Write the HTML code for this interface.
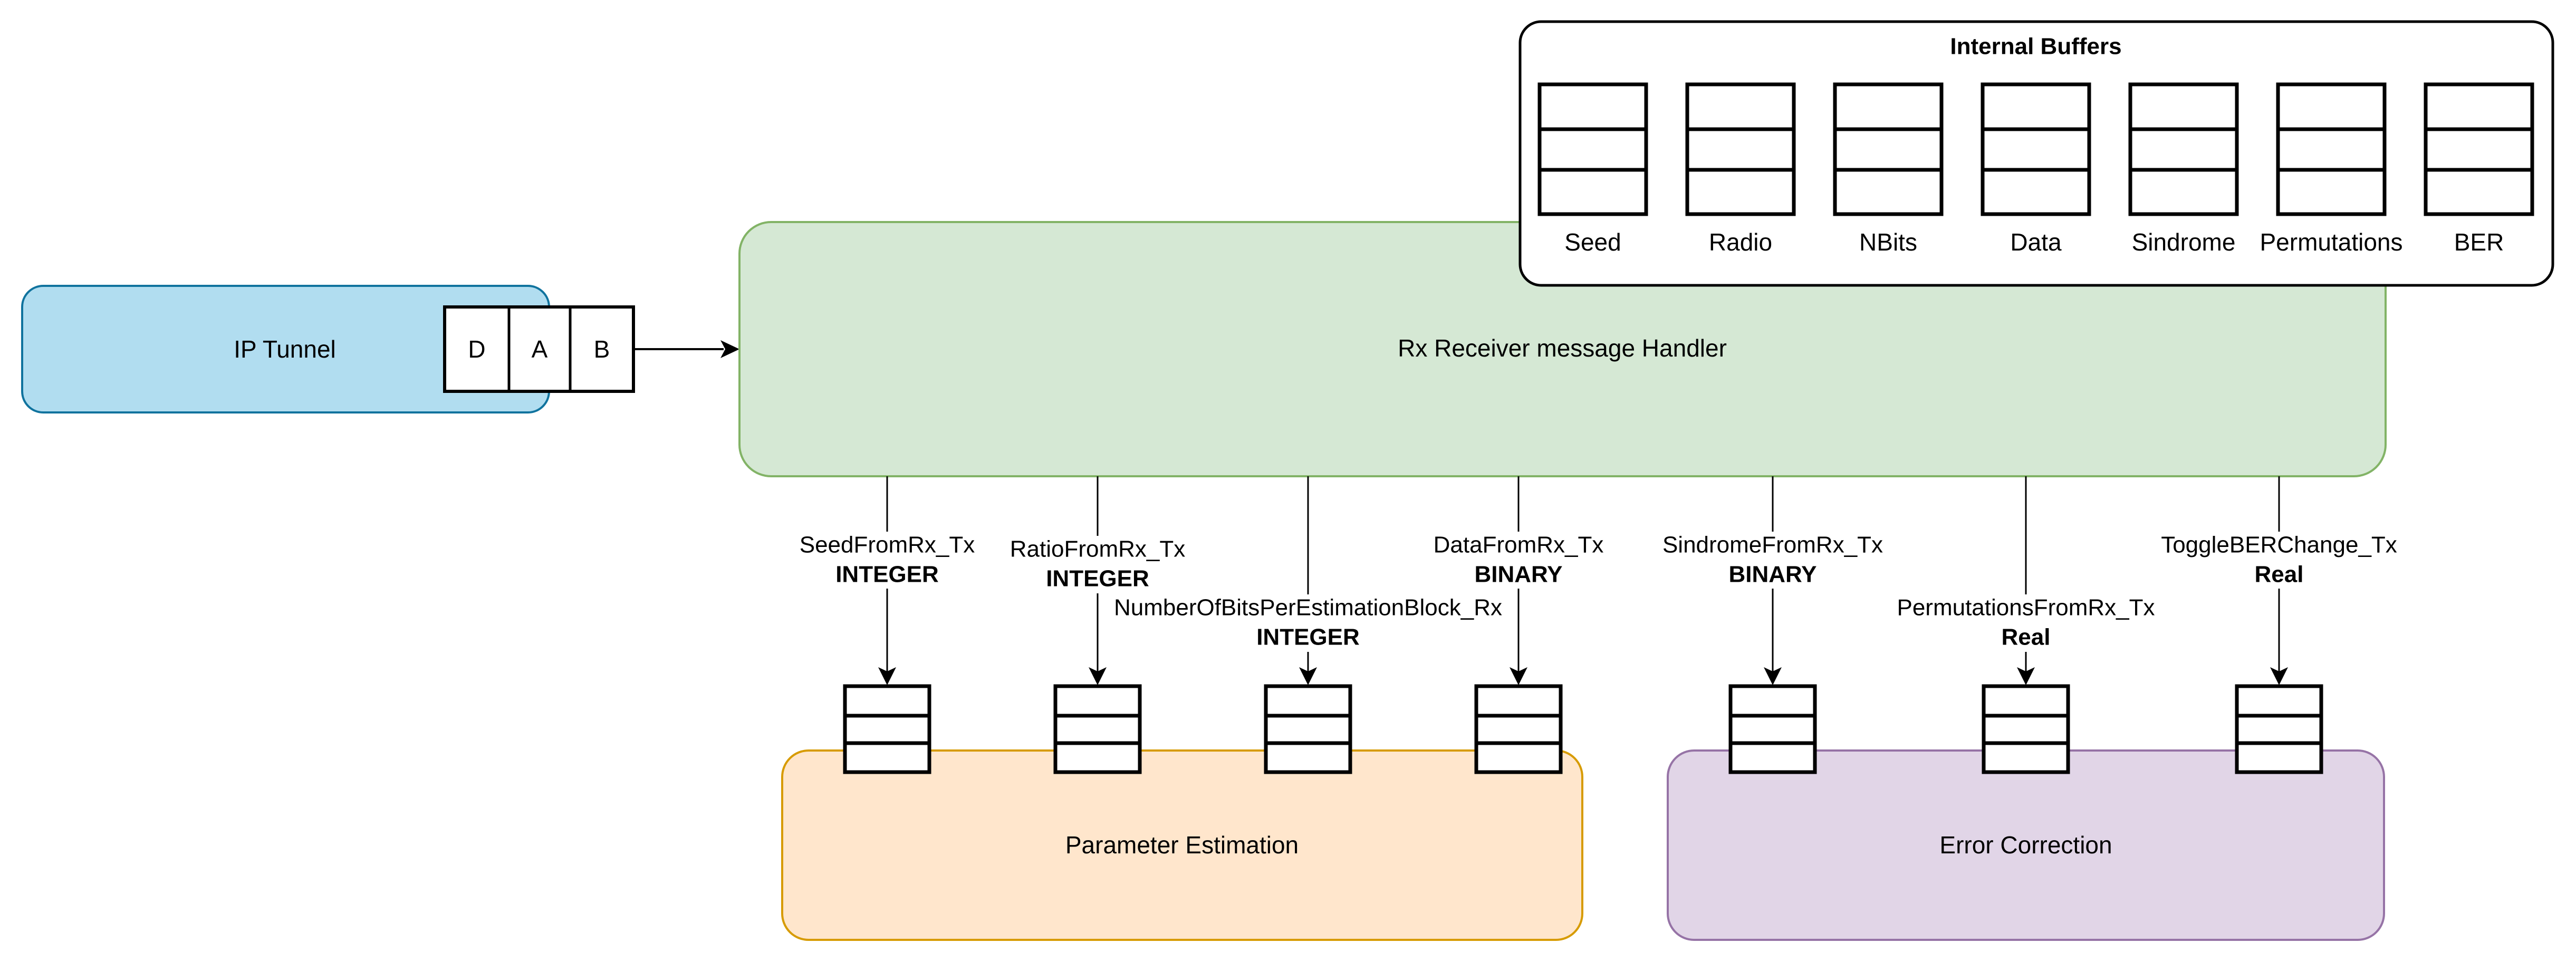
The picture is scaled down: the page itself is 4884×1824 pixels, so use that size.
<!DOCTYPE html>
<html><head><meta charset="utf-8"><style>
html,body{margin:0;padding:0;background:#fff;}
svg{display:block;}
text{font-family:"Liberation Sans",Arial,sans-serif;}
</style></head><body>
<svg width="4884" height="1824" viewBox="0 0 4884 1824" xmlns="http://www.w3.org/2000/svg">
<defs>
<marker id="ah" markerWidth="12" markerHeight="12" refX="11" refY="6" orient="auto" markerUnits="userSpaceOnUse" viewBox="0 0 12 12">
</marker>
<g id="buf">
<rect x="0" y="0" width="160" height="163" fill="#fff" stroke="#000" stroke-width="7"/>
<line x1="0" y1="56" x2="160" y2="56" stroke="#000" stroke-width="7"/>
<line x1="0" y1="108" x2="160" y2="108" stroke="#000" stroke-width="7"/>
</g>
<g id="ibuf">
<rect x="0" y="0" width="202" height="246" fill="#fff" stroke="#000" stroke-width="7"/>
<line x1="0" y1="85" x2="202" y2="85" stroke="#000" stroke-width="7"/>
<line x1="0" y1="162" x2="202" y2="162" stroke="#000" stroke-width="7"/>
</g>
</defs>

<!-- IP Tunnel -->
<rect x="42" y="542" width="999" height="240" rx="40" fill="#b1ddf0" stroke="#10739e" stroke-width="4"/>
<text x="540" y="662" font-size="46" text-anchor="middle" dominant-baseline="central">IP Tunnel</text>
<rect x="843" y="582" width="358" height="160" fill="#fff" stroke="#000" stroke-width="6"/>
<line x1="965" y1="582" x2="965" y2="742" stroke="#000" stroke-width="5"/>
<line x1="1081" y1="582" x2="1081" y2="742" stroke="#000" stroke-width="5"/>
<text x="904" y="662" font-size="46" text-anchor="middle" dominant-baseline="central">D</text>
<text x="1023" y="662" font-size="46" text-anchor="middle" dominant-baseline="central">A</text>
<text x="1141" y="662" font-size="46" text-anchor="middle" dominant-baseline="central">B</text>
<line x1="1204" y1="662" x2="1372" y2="662" stroke="#000" stroke-width="4"/>
<path d="M1402 662 L1366 645 L1375 662 L1366 679 Z" fill="#000"/>

<!-- Green handler -->
<rect x="1402" y="421" width="3121" height="482" rx="60" fill="#d5e8d4" stroke="#82b366" stroke-width="4"/>
<text x="2962" y="660" font-size="46" text-anchor="middle" dominant-baseline="central">Rx Receiver message Handler</text>

<!-- Internal Buffers -->
<rect x="2882" y="41" width="1958" height="500" rx="40" fill="#fff" stroke="#000" stroke-width="5"/>
<text x="3860" y="88" font-size="44" font-weight="bold" text-anchor="middle" dominant-baseline="central">Internal Buffers</text>
<use href="#ibuf" x="2919" y="160"/>
<use href="#ibuf" x="3199" y="160"/>
<use href="#ibuf" x="3479" y="160"/>
<use href="#ibuf" x="3759" y="160"/>
<use href="#ibuf" x="4039" y="160"/>
<use href="#ibuf" x="4319" y="160"/>
<use href="#ibuf" x="4599" y="160"/>
<g font-size="46" text-anchor="middle" dominant-baseline="central">
<text x="3020" y="459">Seed</text>
<text x="3300" y="459">Radio</text>
<text x="3580" y="459">NBits</text>
<text x="3860" y="459">Data</text>
<text x="4140" y="459">Sindrome</text>
<text x="4420" y="459">Permutations</text>
<text x="4700" y="459">BER</text>
</g>

<!-- Orange / Purple -->
<rect x="1483" y="1423" width="1517" height="359" rx="50" fill="#ffe6cc" stroke="#d79b00" stroke-width="4"/>
<text x="2241" y="1602" font-size="46" text-anchor="middle" dominant-baseline="central">Parameter Estimation</text>
<rect x="3162" y="1423" width="1358" height="359" rx="50" fill="#e1d5e7" stroke="#9673a6" stroke-width="4"/>
<text x="3841" y="1602" font-size="46" text-anchor="middle" dominant-baseline="central">Error Correction</text>

<!-- Buffers -->
<use href="#buf" x="1602" y="1301"/>
<use href="#buf" x="2001" y="1301"/>
<use href="#buf" x="2400" y="1301"/>
<use href="#buf" x="2799" y="1301"/>
<use href="#buf" x="3281" y="1301"/>
<use href="#buf" x="3761" y="1301"/>
<use href="#buf" x="4241" y="1301"/>

<!-- Connectors -->
<g stroke="#000" stroke-width="3" fill="none">
<path d="M1682 903 V1008 M1682 1116 V1275"/>
<path d="M2081 903 V1016 M2081 1125 V1275"/>
<path d="M2480 903 V1127 M2480 1236 V1275"/>
<path d="M2879 903 V1008 M2879 1116 V1275"/>
<path d="M3361 903 V1008 M3361 1116 V1275"/>
<path d="M3841 903 V1127 M3841 1236 V1275"/>
<path d="M4321 903 V1008 M4321 1116 V1275"/>
</g>
<g fill="#000">
<path d="M1682 1299 L1665 1265 L1682 1273 L1699 1265 Z"/>
<path d="M2081 1299 L2064 1265 L2081 1273 L2098 1265 Z"/>
<path d="M2480 1299 L2463 1265 L2480 1273 L2497 1265 Z"/>
<path d="M2879 1299 L2862 1265 L2879 1273 L2896 1265 Z"/>
<path d="M3361 1299 L3344 1265 L3361 1273 L3378 1265 Z"/>
<path d="M3841 1299 L3824 1265 L3841 1273 L3858 1265 Z"/>
<path d="M4321 1299 L4304 1265 L4321 1273 L4338 1265 Z"/>
</g>
<g font-size="44" text-anchor="middle" dominant-baseline="central">
<text x="1682" y="1033">SeedFromRx_Tx</text>
<text x="1682" y="1089" font-weight="bold">INTEGER</text>
<text x="2081" y="1041">RatioFromRx_Tx</text>
<text x="2081" y="1097" font-weight="bold">INTEGER</text>
<text x="2480" y="1152">NumberOfBitsPerEstimationBlock_Rx</text>
<text x="2480" y="1208" font-weight="bold">INTEGER</text>
<text x="2879" y="1033">DataFromRx_Tx</text>
<text x="2879" y="1089" font-weight="bold">BINARY</text>
<text x="3361" y="1033">SindromeFromRx_Tx</text>
<text x="3361" y="1089" font-weight="bold">BINARY</text>
<text x="3841" y="1152">PermutationsFromRx_Tx</text>
<text x="3841" y="1208" font-weight="bold">Real</text>
<text x="4321" y="1033">ToggleBERChange_Tx</text>
<text x="4321" y="1089" font-weight="bold">Real</text>
</g>
</svg>
</body></html>
